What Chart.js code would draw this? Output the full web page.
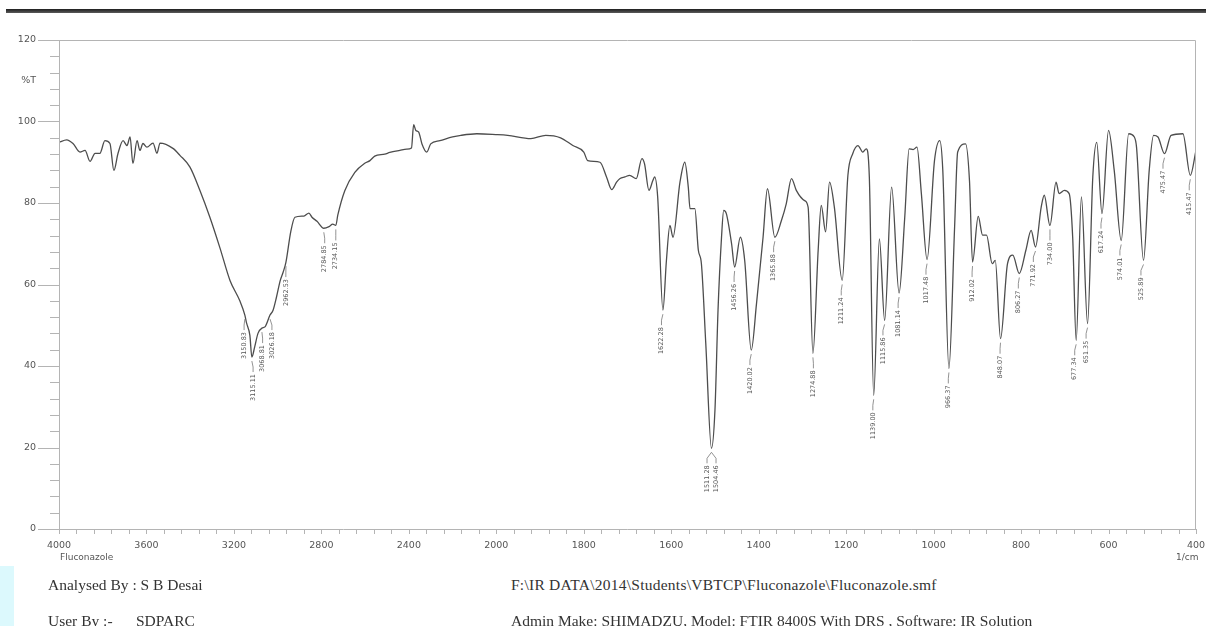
<!DOCTYPE html>
<html>
<head>
<meta charset="utf-8">
<title>Fluconazole FTIR</title>
<script src="https://cdn.jsdelivr.net/npm/chart.js@4.4.1/dist/chart.umd.min.js"></script>
<style>
  html, body { margin: 0; padding: 0; background: #fff; }
  .page { position: relative; width: 1206px; height: 626px; overflow: hidden; background: #fff; }
  .topbar { position: absolute; left: 6px; top: 9px; width: 1200px; height: 4px; background: linear-gradient(#1e1e1e, #5a5a5a); }
  .strip { position: absolute; left: 0; top: 566px; width: 14px; height: 60px; background: #dcf9fd; }
  .chart-box { position: absolute; left: 0; top: 0; width: 1206px; height: 560px; }
  .small { position: absolute; font: 9px "DejaVu Sans", sans-serif; color: #555; white-space: nowrap; }
  .foot { position: absolute; font: 15.5px "Liberation Serif", "Times New Roman", serif; color: #333; white-space: nowrap; line-height: 1; }
</style>
</head>
<body>
<div class="page">
  <div class="topbar"></div>
  <div class="strip"></div>
  <div class="chart-box"><canvas id="irChart"></canvas></div>
  <div class="small" style="left:60px; top:552px;">Fluconazole</div>
  <div class="small" style="left:1176px; top:552px;">1/cm</div>
  <div class="foot" style="left:48px; top:577px;">Analysed By : S B Desai</div>
  <div class="foot" style="left:511px; top:577px; letter-spacing:0.25px;">F:\IR DATA\2014\Students\VBTCP\Fluconazole\Fluconazole.smf</div>
  <div class="foot" style="left:48px; top:613px;">User By :-</div>
  <div class="foot" style="left:136px; top:613px;">SDPARC</div>
  <div class="foot" style="left:511px; top:613px;">Admin Make: SHIMADZU, Model: FTIR 8400S With DRS , Software: IR Solution</div>
</div>
<script>
(function () {
  'use strict';

  // Spectrum (wavenumber in 1/cm, %T)
  var wavenumbers = [
    4000, 3965, 3936, 3904, 3881, 3858, 3835, 3813, 3790, 3767, 3749, 3730, 3707, 3689, 3675, 3662,
    3643, 3630, 3616, 3598, 3570, 3552, 3538, 3479, 3447, 3401, 3355, 3310, 3264, 3218, 3173, 3150,
    3142, 3127, 3118, 3105, 3090, 3072, 3058, 3035, 3021, 3005, 2988, 2975, 2962, 2940, 2921, 2880,
    2857, 2843, 2820, 2789, 2765, 2748, 2734, 2725, 2693, 2647, 2600, 2578, 2556, 2510, 2487, 2441,
    2410, 2388, 2378, 2368, 2355, 2340, 2318, 2300, 2258, 2200, 2162, 2089, 2002, 1974, 1921, 1887,
    1853, 1825, 1800, 1791, 1763, 1748, 1736, 1725, 1717, 1706, 1695, 1680, 1667, 1661, 1651, 1642,
    1638, 1631, 1619, 1611, 1603, 1596, 1580, 1569, 1561, 1557, 1546, 1538, 1531, 1521, 1508, 1500,
    1493, 1485, 1480, 1474, 1462, 1455, 1442, 1432, 1417, 1405, 1390, 1380, 1363, 1348, 1337, 1325,
    1314, 1295, 1287, 1276, 1264, 1257, 1247, 1238, 1227, 1209, 1196, 1185, 1173, 1162, 1154, 1147,
    1137, 1124, 1112, 1096, 1079, 1066, 1056, 1047, 1038, 1028, 1015, 998, 986, 979, 965, 952,
    945, 927, 918, 911, 898, 888, 879, 866, 859, 847, 831, 819, 804, 789, 777, 767,
    754, 747, 734, 720, 713, 701, 690, 682, 674, 662, 648, 636, 627, 615, 600, 587,
    571, 554, 541, 536, 520, 507, 497, 487, 472, 457, 430, 413, 400
  ];
  var transmittance = [
    94.9, 95.5, 94.6, 92.5, 92.9, 90.2, 92.2, 92.2, 95.3, 94.6, 88.0, 92.2, 95.3, 94.1, 96.2, 89.7,
    95.3, 92.9, 94.6, 93.7, 94.7, 92.2, 94.7, 93.4, 91.7, 88.8, 83.0, 76.5, 69.0, 61.0, 56.0, 52.5,
    50.5, 47.5, 42.2, 44.7, 48.0, 49.3, 49.6, 52.5, 53.7, 57.0, 61.0, 63.0, 65.5, 73.0, 76.5, 76.8,
    77.5, 76.5, 75.5, 73.8, 74.2, 74.8, 74.5, 77.0, 83.0, 87.5, 89.8, 90.4, 91.5, 92.0, 92.4, 92.9,
    93.2, 93.5, 99.2, 97.8, 97.4, 94.5, 92.5, 94.5, 95.3, 96.2, 96.6, 97.0, 96.8, 96.6, 95.8, 96.6,
    96.0, 94.1, 92.5, 90.4, 90.0, 86.4, 83.3, 85.1, 86.0, 86.4, 86.8, 86.0, 90.9, 89.6, 83.1, 85.5,
    86.4, 81.5, 53.7, 65.9, 74.5, 71.6, 85.1, 90.0, 83.9, 78.6, 78.6, 68.4, 65.1, 45.5, 19.8, 29.2,
    53.7, 71.6, 78.2, 77.4, 70.0, 64.3, 71.6, 65.9, 43.9, 55.3, 71.6, 83.5, 71.6, 75.7, 79.8, 86.0,
    83.1, 80.6, 79.0, 43.1, 68.4, 79.4, 72.9, 85.1, 79.0, 61.0, 86.8, 92.1, 94.1, 92.5, 93.3, 86.4,
    32.8, 71.2, 51.2, 83.9, 57.9, 76.5, 93.3, 93.1, 93.7, 82.3, 66.1, 90.4, 95.3, 88.0, 39.4, 74.1,
    92.5, 94.5, 85.5, 65.5, 76.7, 72.1, 72.1, 65.1, 65.9, 46.7, 65.1, 67.2, 62.7, 68.4, 73.3, 69.2,
    79.0, 81.9, 74.5, 85.1, 82.3, 83.1, 82.3, 71.6, 46.3, 81.5, 50.4, 86.4, 94.9, 77.4, 97.8, 88.0,
    70.8, 97.0, 96.2, 93.7, 65.9, 88.0, 96.6, 96.2, 92.1, 96.6, 97.0, 86.8, 92.9
  ];

  // Axis labels (scan is expanded 2x below 2000 1/cm)
  var xTickLabels = ['4000', '3600', '3200', '2800', '2400', '2000', '1800', '1600', '1400', '1200', '1000', '800', '600', '400'];

  // Peak picks: band the mark hangs from, printed value
  var peakAt = [3150, 3118, 3072, 3035, 2962, 2789, 2734, 1619, 1508, 1508, 1455, 1417, 1363, 1276, 1209,
    1137, 1112, 1079, 1015, 965, 911, 847, 804, 767, 734, 674, 648, 615, 571, 520, 472, 413];
  var peakLabels = ['3150.83', '3115.11', '3068.81', '3026.18', '2962.53', '2784.85', '2734.15', '1622.28',
    '1511.28', '1504.46', '1456.26', '1420.02', '1365.88', '1274.88', '1211.24', '1139.00', '1115.86',
    '1081.14', '1017.48', '966.37', '912.02', '848.07', '806.27', '771.92', '734.00', '677.34', '651.35',
    '617.24', '574.01', '525.89', '475.47', '415.47'];

  // wavenumber -> position along the printed axis (one unit per labelled interval)
  function toAxis(w) {
    return w >= 2000 ? (4000 - w) / 400 : 5 + (2000 - w) / 200;
  }
  function valueAt(w) {
    var best = 0;
    for (var i = 1; i < wavenumbers.length; i++) {
      if (Math.abs(wavenumbers[i] - w) < Math.abs(wavenumbers[best] - w)) best = i;
    }
    return transmittance[best];
  }

  var points = wavenumbers.map(function (w, i) {
    return { x: toAxis(w), y: transmittance[i] };
  });

  var axisColor = '#b4b4b4';
  var labelFont = "'DejaVu Sans', sans-serif";

  // Frame, axis lines and tick marks in the instrument's style
  var framePlugin = {
    id: 'frame',
    afterDraw: function (chart) {
      var ctx = chart.ctx, a = chart.chartArea;
      var xs = chart.scales.x, ys = chart.scales.y;
      ctx.save();
      ctx.strokeStyle = axisColor;
      ctx.lineWidth = 1;
      ctx.beginPath();
      ctx.moveTo(a.left + 0.5, a.top + 0.5);
      ctx.lineTo(a.right - 0.5, a.top + 0.5);
      ctx.lineTo(a.right - 0.5, a.bottom + 0.5);
      ctx.moveTo(a.left + 0.5, a.top);
      ctx.lineTo(a.left + 0.5, a.bottom + 0.5);
      ctx.lineTo(a.right, a.bottom + 0.5);
      // y ticks every 4 %T, long ones at the labelled values
      for (var v = 0; v <= 120; v += 4) {
        var y = Math.round(ys.getPixelForValue(v)) + 0.5;
        var len = v % 20 === 0 ? 21 : 9;
        ctx.moveTo(a.left - len, y);
        ctx.lineTo(a.left, y);
      }
      // x ticks, five per labelled interval
      for (var k = 0; k <= 65; k++) {
        var x = Math.round(xs.getPixelForValue(k / 5)) + 0.5;
        ctx.moveTo(x, a.bottom);
        ctx.lineTo(x, a.bottom + 5);
      }
      ctx.stroke();
      ctx.restore();
    }
  };

  // Vertical peak annotations hanging under each band
  var peakLabelPlugin = {
    id: 'peakLabels',
    afterDatasetsDraw: function (chart) {
      var ctx = chart.ctx, xs = chart.scales.x, ys = chart.scales.y;
      var textX = peakLabels.map(function (t) { return xs.getPixelForValue(toAxis(parseFloat(t))); });
      for (var i = 1; i < textX.length; i++) {
        if (textX[i] - textX[i - 1] < 8) {
          var mid = (textX[i] + textX[i - 1]) / 2;
          textX[i - 1] = mid - 4.5;
          textX[i] = mid + 4.5;
        }
      }
      ctx.save();
      ctx.strokeStyle = '#777';
      ctx.fillStyle = '#555';
      ctx.lineWidth = 0.8;
      ctx.font = '6.5px ' + labelFont;
      peakAt.forEach(function (w, i) {
        var px = xs.getPixelForValue(toAxis(w));
        var py = ys.getPixelForValue(valueAt(w));
        ctx.beginPath();
        ctx.moveTo(px, py + 4);
        ctx.lineTo(textX[i], py + 10);
        ctx.lineTo(textX[i], py + 15);
        ctx.stroke();
        ctx.save();
        ctx.translate(textX[i], py + 17);
        ctx.rotate(-Math.PI / 2);
        ctx.textAlign = 'right';
        ctx.textBaseline = 'middle';
        ctx.fillText(peakLabels[i], 0, 0);
        ctx.restore();
      });
      ctx.restore();
    }
  };

  var ctx = document.getElementById('irChart');
  new Chart(ctx, {
    type: 'line',
    data: {
      datasets: [{
        label: 'Fluconazole',
        data: points,
        borderColor: '#4d4d4d',
        borderWidth: 1.3,
        pointRadius: 0,
        fill: false,
        cubicInterpolationMode: 'monotone'
      }]
    },
    options: {
      responsive: true,
      maintainAspectRatio: false,
      animation: false,
      layout: { padding: { top: 40, right: 10, left: 0, bottom: 0 } },
      plugins: {
        legend: { display: false },
        tooltip: { enabled: false }
      },
      scales: {
        x: {
          type: 'linear',
          min: 0,
          max: 13,
          grid: { display: false, drawTicks: false },
          border: { display: false },
          afterFit: function (scale) {
            scale.height = 31;
            scale.paddingLeft = 0;
            scale.paddingRight = 0;
          },
          ticks: {
            stepSize: 1,
            autoSkip: false,
            maxRotation: 0,
            padding: 11,
            color: '#555',
            font: { size: 9.5, family: labelFont },
            callback: function (v) { return xTickLabels[v] || ''; }
          }
        },
        y: {
          min: 0,
          max: 120,
          grid: { display: false, drawTicks: false },
          border: { display: false },
          afterFit: function (scale) { scale.width = 59; },
          ticks: {
            stepSize: 10,
            padding: 23,
            color: '#555',
            font: { size: 9.5, family: labelFont },
            callback: function (v) {
              if (v === 110) return '%T';
              return v % 20 === 0 ? String(v) : '';
            }
          }
        }
      }
    },
    plugins: [framePlugin, peakLabelPlugin]
  });
})();
</script>
</body>
</html>
